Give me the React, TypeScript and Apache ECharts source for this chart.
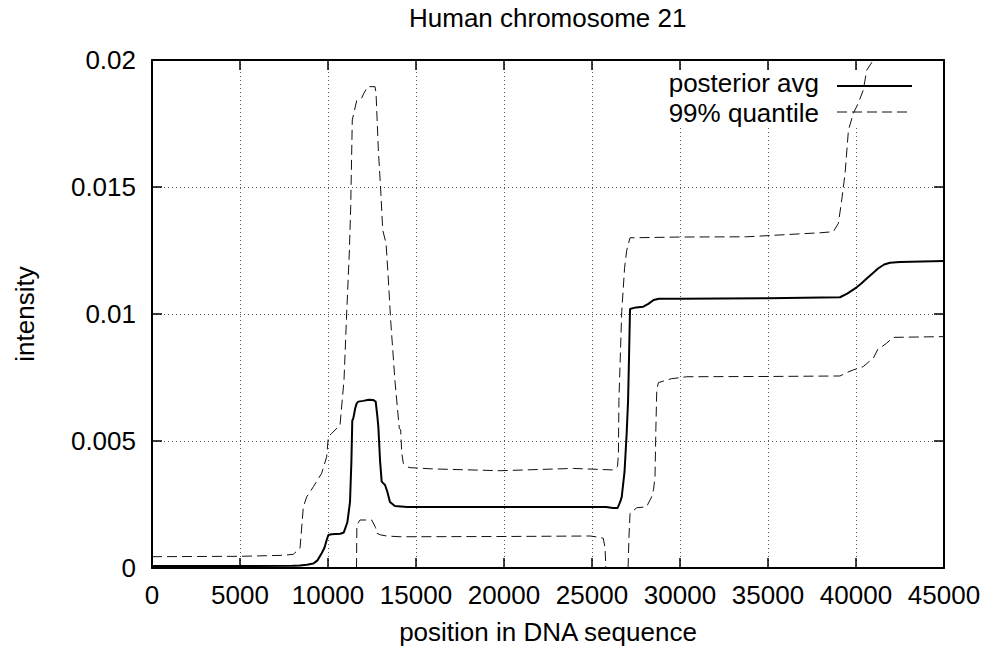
import React, { useEffect, useRef } from "react";
import * as echarts from "echarts";

const titleText = "Human chromosome 21";
const xAxisTitle = "position in DNA sequence";
const yAxisTitle = "intensity";
const legendNames = ["posterior avg", "99% quantile"];

const xTicks = [0, 5000, 10000, 15000, 20000, 25000, 30000, 35000, 40000, 45000];
const yTicks = [0, 0.005, 0.01, 0.015, 0.02];
const yTickLabels = ["0", "0.005", "0.01", "0.015", "0.02"];

const posteriorAvg: [number, number][] = [
  [0, 0.00008], [5000, 0.00008], [8000, 0.00009], [8400, 0.0001], [8800, 0.00013],
  [9170, 0.00018], [9400, 0.0003], [9640, 0.00058], [9800, 0.0008], [9925, 0.0011],
  [10020, 0.0013], [10200, 0.00133], [10700, 0.00135], [10900, 0.0014], [11100, 0.0018],
  [11250, 0.0026], [11330, 0.0042], [11380, 0.0058], [11440, 0.0059], [11550, 0.0063],
  [11630, 0.00648], [11720, 0.00655], [12000, 0.00658], [12300, 0.00662], [12580, 0.00661],
  [12710, 0.00655], [12800, 0.006], [12860, 0.00556], [12955, 0.00425], [13050, 0.0034],
  [13240, 0.00327], [13370, 0.003], [13520, 0.0026], [13800, 0.00244], [14500, 0.0024],
  [20000, 0.0024], [25800, 0.0024], [26200, 0.00236], [26450, 0.00236], [26600, 0.0026],
  [26690, 0.0028], [26850, 0.0038], [26970, 0.0053], [27050, 0.0066], [27110, 0.0085],
  [27160, 0.0102], [27500, 0.01026], [27915, 0.01029], [28200, 0.0104], [28500, 0.01055],
  [28800, 0.0106], [30000, 0.0106], [35000, 0.01062], [39090, 0.01066], [39500, 0.0108],
  [40040, 0.01105], [40300, 0.0112], [40610, 0.0114], [40950, 0.0116], [41270, 0.0118],
  [41600, 0.01195], [41930, 0.01202], [42500, 0.01205], [45000, 0.01209],
];

const upperQuantile: [number, number][] = [
  [0, 0.000445], [5000, 0.00046], [7500, 0.0005], [8030, 0.00054], [8410, 0.00078],
  [8540, 0.00189], [8600, 0.00241], [8790, 0.0028], [9170, 0.0032], [9640, 0.00373],
  [9925, 0.00438], [10020, 0.00517], [10210, 0.0053], [10590, 0.00556], [10680, 0.0056],
  [10910, 0.0074], [11060, 0.01], [11210, 0.0124], [11290, 0.01422], [11380, 0.01764],
  [11630, 0.0184], [11910, 0.0185], [12045, 0.0187], [12255, 0.01895], [12670, 0.01895],
  [12730, 0.0187], [12860, 0.01646], [12995, 0.01488], [13110, 0.0133], [13300, 0.01278],
  [13430, 0.01134], [13560, 0.00976], [13800, 0.0074], [14050, 0.0055], [14130, 0.00543],
  [14190, 0.00452], [14280, 0.00412], [14470, 0.00399], [14660, 0.00395], [16000, 0.0039],
  [19770, 0.00383], [23940, 0.00392], [26210, 0.00386], [26450, 0.004], [26500, 0.0045],
  [26530, 0.0066], [26570, 0.0075], [26690, 0.0101], [26850, 0.0118], [26970, 0.0125],
  [27160, 0.013], [30000, 0.01303], [33790, 0.01304], [38000, 0.0132], [38710, 0.01324],
  [39000, 0.01357], [39190, 0.01449], [39380, 0.01554], [39570, 0.01724], [39850, 0.0179],
  [40130, 0.0183], [40415, 0.01882], [40610, 0.0196], [40985, 0.02], [41300, 0.0215],
  [41600, 0.0235],
];

const lowerQuantileA: [number, number][] = [
  [11620, 0], [11640, 0.0017], [11820, 0.00189], [12480, 0.00189], [12700, 0.0016],
  [12770, 0.00137], [13000, 0.0013], [13340, 0.00126], [14090, 0.00123], [20000, 0.00124],
  [24890, 0.00126], [25300, 0.00122], [25640, 0.00117], [25740, 0.0008], [25790, 0],
];

const lowerQuantileB: [number, number][] = [
  [27050, 0], [27100, 0.0012], [27160, 0.00215], [27540, 0.00237], [28100, 0.00241],
  [28390, 0.0028], [28500, 0.0031], [28580, 0.0036], [28630, 0.0055], [28680, 0.007],
  [28770, 0.0073], [29500, 0.00745], [30380, 0.00753], [35000, 0.00754], [39090, 0.00756],
  [39500, 0.0077], [39850, 0.0078], [40415, 0.00793], [40700, 0.0081], [40985, 0.00826],
  [41270, 0.00865], [41500, 0.00873], [41740, 0.00885], [42120, 0.00908], [45000, 0.00911],
];

const FONT = "Liberation Sans, Arial, Helvetica, sans-serif";

export default function App() {
  const ref = useRef<HTMLDivElement>(null);

  useEffect(() => {
    if (!ref.current) return;
    const chart = echarts.init(ref.current, undefined, { renderer: "svg" });

    const xStep = xTicks[1] - xTicks[0];
    const yStep = yTicks[1] - yTicks[0];
    const yFormatter = (v: number) => {
      const i = yTicks.findIndex((t) => Math.abs(t - v) < 1e-9);
      return i >= 0 ? yTickLabels[i] : String(v);
    };

    const gridLine = { show: true, lineStyle: { color: "#555", width: 1, type: [1, 3] as number[] } };
    const axisLine = { show: true, onZero: false, lineStyle: { color: "#000", width: 2 } };
    const tick = { show: true, inside: true, length: 10, lineStyle: { color: "#000", width: 1.5 } };
    const labelStyle = { fontSize: 26, color: "#000", fontFamily: FONT };

    const dashed = { color: "#111", width: 1, type: [10, 5] as number[] };

    const option: any = {
      animation: false,
      backgroundColor: "#fff",
      title: {
        text: titleText,
        left: 404,
        top: 0,
        textStyle: { fontSize: 26, fontWeight: "normal", color: "#000", fontFamily: FONT },
      },
      grid: { left: 152, right: 43, top: 60, bottom: 85, containLabel: false },
      xAxis: [
        {
          type: "value",
          min: xTicks[0],
          max: xTicks[xTicks.length - 1],
          interval: xStep,
          position: "bottom",
          axisLine,
          axisTick: tick,
          axisLabel: { ...labelStyle, margin: 14, formatter: (v: number) => String(v) },
          splitLine: gridLine,
          name: xAxisTitle,
          nameLocation: "middle",
          nameGap: 51,
          nameTextStyle: labelStyle,
        },
        {
          type: "value",
          min: xTicks[0],
          max: xTicks[xTicks.length - 1],
          interval: xStep,
          position: "top",
          axisLine,
          axisTick: tick,
          axisLabel: { show: false },
          splitLine: { show: false },
        },
      ],
      yAxis: [
        {
          type: "value",
          min: yTicks[0],
          max: yTicks[yTicks.length - 1],
          interval: yStep,
          position: "left",
          axisLine,
          axisTick: tick,
          axisLabel: { ...labelStyle, margin: 16, formatter: yFormatter },
          splitLine: gridLine,
          name: yAxisTitle,
          nameLocation: "middle",
          nameGap: 114,
          nameTextStyle: labelStyle,
        },
        {
          type: "value",
          min: yTicks[0],
          max: yTicks[yTicks.length - 1],
          interval: yStep,
          position: "right",
          axisLine,
          axisTick: tick,
          axisLabel: { show: false },
          splitLine: { show: false },
        },
      ],
      graphic: [
        { type: "rect", z: 1, shape: { x: 655, y: 72, width: 287, height: 53 }, style: { fill: "#fff" } },
        {
          type: "text", z: 5, x: 819, y: 83,
          style: { text: legendNames[0], fill: "#000", font: `26px ${FONT}`, lineHeight: 24, textAlign: "right", textVerticalAlign: "middle" },
        },
        {
          type: "text", z: 5, x: 819, y: 112.5,
          style: { text: legendNames[1], fill: "#000", font: `26px ${FONT}`, lineHeight: 24, textAlign: "right", textVerticalAlign: "middle" },
        },
        { type: "line", z: 5, shape: { x1: 837, y1: 86, x2: 912, y2: 86 }, style: { stroke: "#000", lineWidth: 2 } },
        { type: "line", z: 5, shape: { x1: 837, y1: 112, x2: 912, y2: 112 }, style: { stroke: "#111", lineWidth: 1, lineDash: [10, 5] } },
      ],
      series: [
        {
          name: legendNames[0], type: "line", xAxisIndex: 0, yAxisIndex: 0, data: posteriorAvg,
          showSymbol: false, symbol: "none", clip: true, lineStyle: { color: "#000", width: 2 }, z: 3,
        },
        {
          name: legendNames[1], type: "line", xAxisIndex: 0, yAxisIndex: 0, data: upperQuantile,
          showSymbol: false, symbol: "none", clip: true, lineStyle: dashed,
        },
        {
          name: legendNames[1] + " lower", type: "line", xAxisIndex: 0, yAxisIndex: 0, data: lowerQuantileA,
          showSymbol: false, symbol: "none", clip: true, lineStyle: dashed,
        },
        {
          name: legendNames[1] + " lower 2", type: "line", xAxisIndex: 0, yAxisIndex: 0, data: lowerQuantileB,
          showSymbol: false, symbol: "none", clip: true, lineStyle: dashed,
        },
      ],
    };

    chart.setOption(option);
    return () => chart.dispose();
  }, []);

  return <div ref={ref} style={{ width: 987, height: 653, position: "absolute", left: 0, top: 0 }} />;
}
